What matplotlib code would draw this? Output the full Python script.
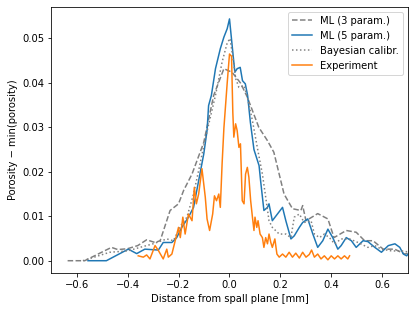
import numpy as np
import matplotlib
matplotlib.use("Agg")
import matplotlib.pyplot as plt

# ML (3 param.) - grey dashed
x_ml3 = [-0.635, -0.568, -0.463, -0.438, -0.40, -0.36, -0.325, -0.292, -0.272, -0.233,
         -0.2, -0.18, -0.147, -0.101, -0.062, -0.022, 0.01, 0.043, 0.07, 0.115, 0.149,
         0.174, 0.214, 0.247, 0.28, 0.287, 0.30, 0.332, 0.346, 0.386, 0.41,
         0.458, 0.497, 0.53, 0.563, 0.603, 0.648, 0.687, 0.71]
y_ml3 = [0.0, 0.0, 0.003, 0.0025, 0.0027, 0.0034, 0.0047, 0.0041, 0.0045, 0.0113,
         0.0128, 0.0158, 0.0195, 0.0266, 0.0372, 0.0432, 0.0424, 0.040, 0.0368, 0.030, 0.027,
         0.0244, 0.015, 0.0117, 0.0113, 0.0124, 0.009, 0.0101, 0.0106, 0.0094, 0.0052,
         0.0068, 0.0064, 0.0045, 0.0045, 0.0026, 0.0026, 0.0015, 0.0018]

# ML (5 param.) - blue
x_ml5 = [-0.555, -0.483, -0.397, -0.364, -0.332, -0.279, -0.26, -0.226, -0.207, -0.187,
         -0.161, -0.141, -0.121, -0.101, -0.088, -0.082, -0.071, -0.055, -0.036, -0.022,
         -0.009, 0.0, 0.013, 0.021, 0.03, 0.042, 0.051, 0.062, 0.071, 0.082,
         0.096, 0.116, 0.122, 0.135, 0.149,
         0.155, 0.168, 0.188, 0.208, 0.221, 0.241, 0.254, 0.274, 0.287, 0.307,
         0.327, 0.346, 0.366, 0.386, 0.405, 0.425, 0.438, 0.458, 0.478, 0.497,
         0.524, 0.543, 0.57, 0.596, 0.623, 0.649, 0.668, 0.682, 0.695, 0.71]
y_ml5 = [0.0, 0.0, 0.0026, 0.0016, 0.0026, 0.0024, 0.0041, 0.0041, 0.0052, 0.0075,
         0.0098, 0.012, 0.018, 0.024, 0.0293, 0.0349, 0.0372, 0.0432, 0.0477, 0.0503,
         0.0522, 0.0544, 0.0469, 0.0424, 0.0432, 0.0435, 0.0405, 0.0398, 0.0372, 0.0311,
         0.025, 0.0214, 0.018, 0.0113, 0.012,
         0.0128, 0.009, 0.0105, 0.012, 0.009, 0.0049, 0.0056, 0.0075, 0.0086, 0.0094,
         0.006, 0.003, 0.0045, 0.0071, 0.0052, 0.0026, 0.0034, 0.0052, 0.0045, 0.003,
         0.0045, 0.0043, 0.003, 0.0019, 0.0034, 0.0038, 0.003, 0.0015, 0.0011, 0.0022]

# Bayesian calibr. - grey dotted
x_bay = [-0.575, -0.47, -0.40, -0.351, -0.30, -0.246, -0.22, -0.19, -0.167, -0.141,
         -0.121, -0.095, -0.055, -0.029, -0.009, 0.002, 0.017, 0.024, 0.037, 0.057,
         0.07, 0.09, 0.109, 0.129, 0.142, 0.155, 0.168, 0.195, 0.221, 0.241,
         0.254, 0.274, 0.293, 0.32, 0.333, 0.353, 0.372, 0.392, 0.412, 0.438,
         0.471, 0.504, 0.543, 0.57, 0.596, 0.636, 0.675, 0.71]
y_bay = [0.0, 0.0019, 0.0022, 0.003, 0.0038, 0.0049, 0.0045, 0.008, 0.0098, 0.015,
         0.0203, 0.0274, 0.0372, 0.0447, 0.049, 0.050, 0.0443, 0.041, 0.039, 0.0394,
         0.0368, 0.0315, 0.0255, 0.0195, 0.0143, 0.009, 0.0075, 0.006, 0.006, 0.0052,
         0.0098, 0.0105, 0.0086, 0.009, 0.006, 0.0052, 0.006, 0.0052, 0.0038, 0.0049,
         0.0049, 0.0041, 0.003, 0.0034, 0.0026, 0.0022, 0.0022, 0.0019]

# Experiment - orange
x_exp = [-0.358, -0.338, -0.325, -0.312, -0.292, -0.279, -0.26, -0.246, -0.24, -0.226,
         -0.213, -0.2, -0.193, -0.183, -0.174, -0.161, -0.147, -0.138, -0.13, -0.121,
         -0.108, -0.095, -0.088, -0.078, -0.066, -0.059, -0.051, -0.042, -0.036, -0.029,
         -0.022, -0.009, 0.0, 0.008, 0.013, 0.017, 0.024, 0.03, 0.037,
         0.043, 0.05, 0.057, 0.063, 0.07, 0.076, 0.083, 0.09, 0.096, 0.1,
         0.107, 0.112, 0.12, 0.129, 0.135, 0.142, 0.149, 0.155, 0.162, 0.168,
         0.178, 0.186, 0.195, 0.208, 0.221, 0.234, 0.247, 0.26, 0.274, 0.287,
         0.30, 0.313, 0.322, 0.333, 0.346, 0.359, 0.372, 0.386, 0.399, 0.412,
         0.425, 0.438, 0.451, 0.464, 0.471]
y_exp = [0.0011, 0.0008, 0.0013, 0.0004, 0.0034, 0.0023, 0.0004, 0.0026, 0.0008, 0.0015,
         0.0045, 0.0075, 0.0052, 0.0098, 0.006, 0.0105, 0.009, 0.0165, 0.0128, 0.015,
         0.0207, 0.0143, 0.0094, 0.0068, 0.0105, 0.0146, 0.0135, 0.015, 0.012, 0.0218,
         0.0298, 0.040, 0.0465, 0.046, 0.0334, 0.0278, 0.0308, 0.0293, 0.0255,
         0.0263, 0.0135, 0.0128, 0.0195, 0.021, 0.0188, 0.0135, 0.0098, 0.0068, 0.0098,
         0.0075, 0.009, 0.006, 0.0052, 0.003, 0.0052, 0.0038, 0.006, 0.0041, 0.003,
         0.0049, 0.0015, 0.0008, 0.0015, 0.0008, 0.0019, 0.0008, 0.0017, 0.0006, 0.0019,
         0.0008, 0.0014, 0.0024, 0.0008, 0.0015, 0.0004, 0.0011, 0.0002, 0.0011, 0.0004,
         0.0011, 0.0004, 0.0011, 0.0004, 0.0011]

fig = plt.figure(figsize=(415/72, 310/72), dpi=72)
ax = fig.add_subplot(111)
fig.subplots_adjust(left=0.123, right=0.983, top=0.978, bottom=0.12)

ax.plot(x_ml3, y_ml3, '--', color='grey', label='ML (3 param.)')
ax.plot(x_ml5, y_ml5, color='C0', label='ML (5 param.)')
ax.plot(x_bay, y_bay, ':', color='grey', label='Bayesian calibr.')
ax.plot(x_exp, y_exp, color='C1', label='Experiment')

ax.set_xlim(-0.7, 0.7)
ax.set_xlabel('Distance from spall plane [mm]')
ax.set_ylabel('Porosity − min(porosity)')
ax.legend(loc='upper right')

fig.savefig('out.png', dpi=72)
